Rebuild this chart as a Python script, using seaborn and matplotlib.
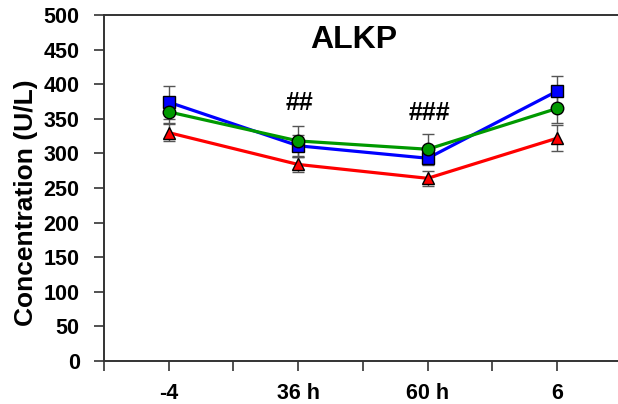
import numpy as np
import pandas as pd
import matplotlib
matplotlib.use("Agg")
import matplotlib.pyplot as plt
import seaborn as sns

# Sampling time points
timepoints = ["-4", "36 h", "60 h", "6"]
positions = [1, 3, 5, 7]

# Mean ALKP concentration (U/L) per group
blue_vals = [374, 311, 293, 390]
green_vals = [360, 318, 306, 365]
red_vals = [330, 284, 264, 322]

# Standard errors
blue_err = [24, 16, 10, 22]
green_err = [16, 22, 22, 21]
red_err = [12, 11, 11, 19]

group_names = ["Group 1", "Group 2", "Group 3"]
colors = ["#0000FF", "#009900", "#FF0000"]
marker_shapes = ["s", "o", "^"]

df = pd.concat([
    pd.DataFrame({"pos": positions, "value": v, "err": e, "group": g})
    for v, e, g in zip([blue_vals, green_vals, red_vals],
                       [blue_err, green_err, red_err], group_names)
], ignore_index=True)

sns.set_theme(style="white")
plt.rcParams["font.family"] = ["Liberation Sans", "DejaVu Sans"]
plt.rcParams["font.weight"] = "bold"
plt.rcParams["text.color"] = "black"
plt.rcParams["axes.labelcolor"] = "black"
plt.rcParams["xtick.color"] = "black"
plt.rcParams["ytick.color"] = "black"

fig = plt.figure(figsize=(6.18, 4.04), dpi=100)
ax = fig.add_axes([104 / 618, 43 / 404, 514 / 618, 346 / 404])

# Error bars first so the markers sit on top
for g in group_names:
    sub = df[df["group"] == g]
    ax.errorbar(sub["pos"], sub["value"], yerr=sub["err"], fmt="none",
                ecolor="#555555", elinewidth=1.0, capsize=4, capthick=1.0,
                zorder=1)

sns.lineplot(data=df, x="pos", y="value", hue="group", style="group",
             hue_order=group_names, style_order=group_names,
             palette=colors, markers=marker_shapes, dashes=False,
             linewidth=2.3, markersize=9, markeredgecolor="black",
             markeredgewidth=1.0, legend=False, ax=ax, zorder=3)

ax.set_xlim(0, 7.94)
ax.set_ylim(0, 500)
ax.set_xticks(range(0, 8))
ax.set_xticklabels(["", timepoints[0], "", timepoints[1], "", timepoints[2], "", timepoints[3]])
ax.set_yticks(np.arange(0, 501, 50))
ax.tick_params(axis="both", direction="out", length=7, width=1.2, color="#333333",
               labelsize=15.5, bottom=True, left=True)
ax.tick_params(axis="y", pad=10.5)
ax.tick_params(axis="x", pad=9)
for lab in ax.get_xticklabels() + ax.get_yticklabels():
    lab.set_fontweight("bold")

ax.set_xlabel("")
ax.set_ylabel("Concentration (U/L)", fontsize=19, fontweight="bold")
ax.yaxis.set_label_coords(-0.128, 0.457)

ax.spines["right"].set_visible(False)
for s in ["left", "bottom", "top"]:
    ax.spines[s].set_visible(True)
    ax.spines[s].set_color("#333333")
    ax.spines[s].set_linewidth(1.4)

ax.text(3.86, 464, "ALKP", ha="center", va="center", fontsize=23, fontweight="bold")
ax.text(3.02, 373, "##", ha="center", va="center", fontsize=18, fontweight="bold")
ax.text(5.02, 358, "###", ha="center", va="center", fontsize=18, fontweight="bold")

fig.savefig("out.png", dpi=100)
